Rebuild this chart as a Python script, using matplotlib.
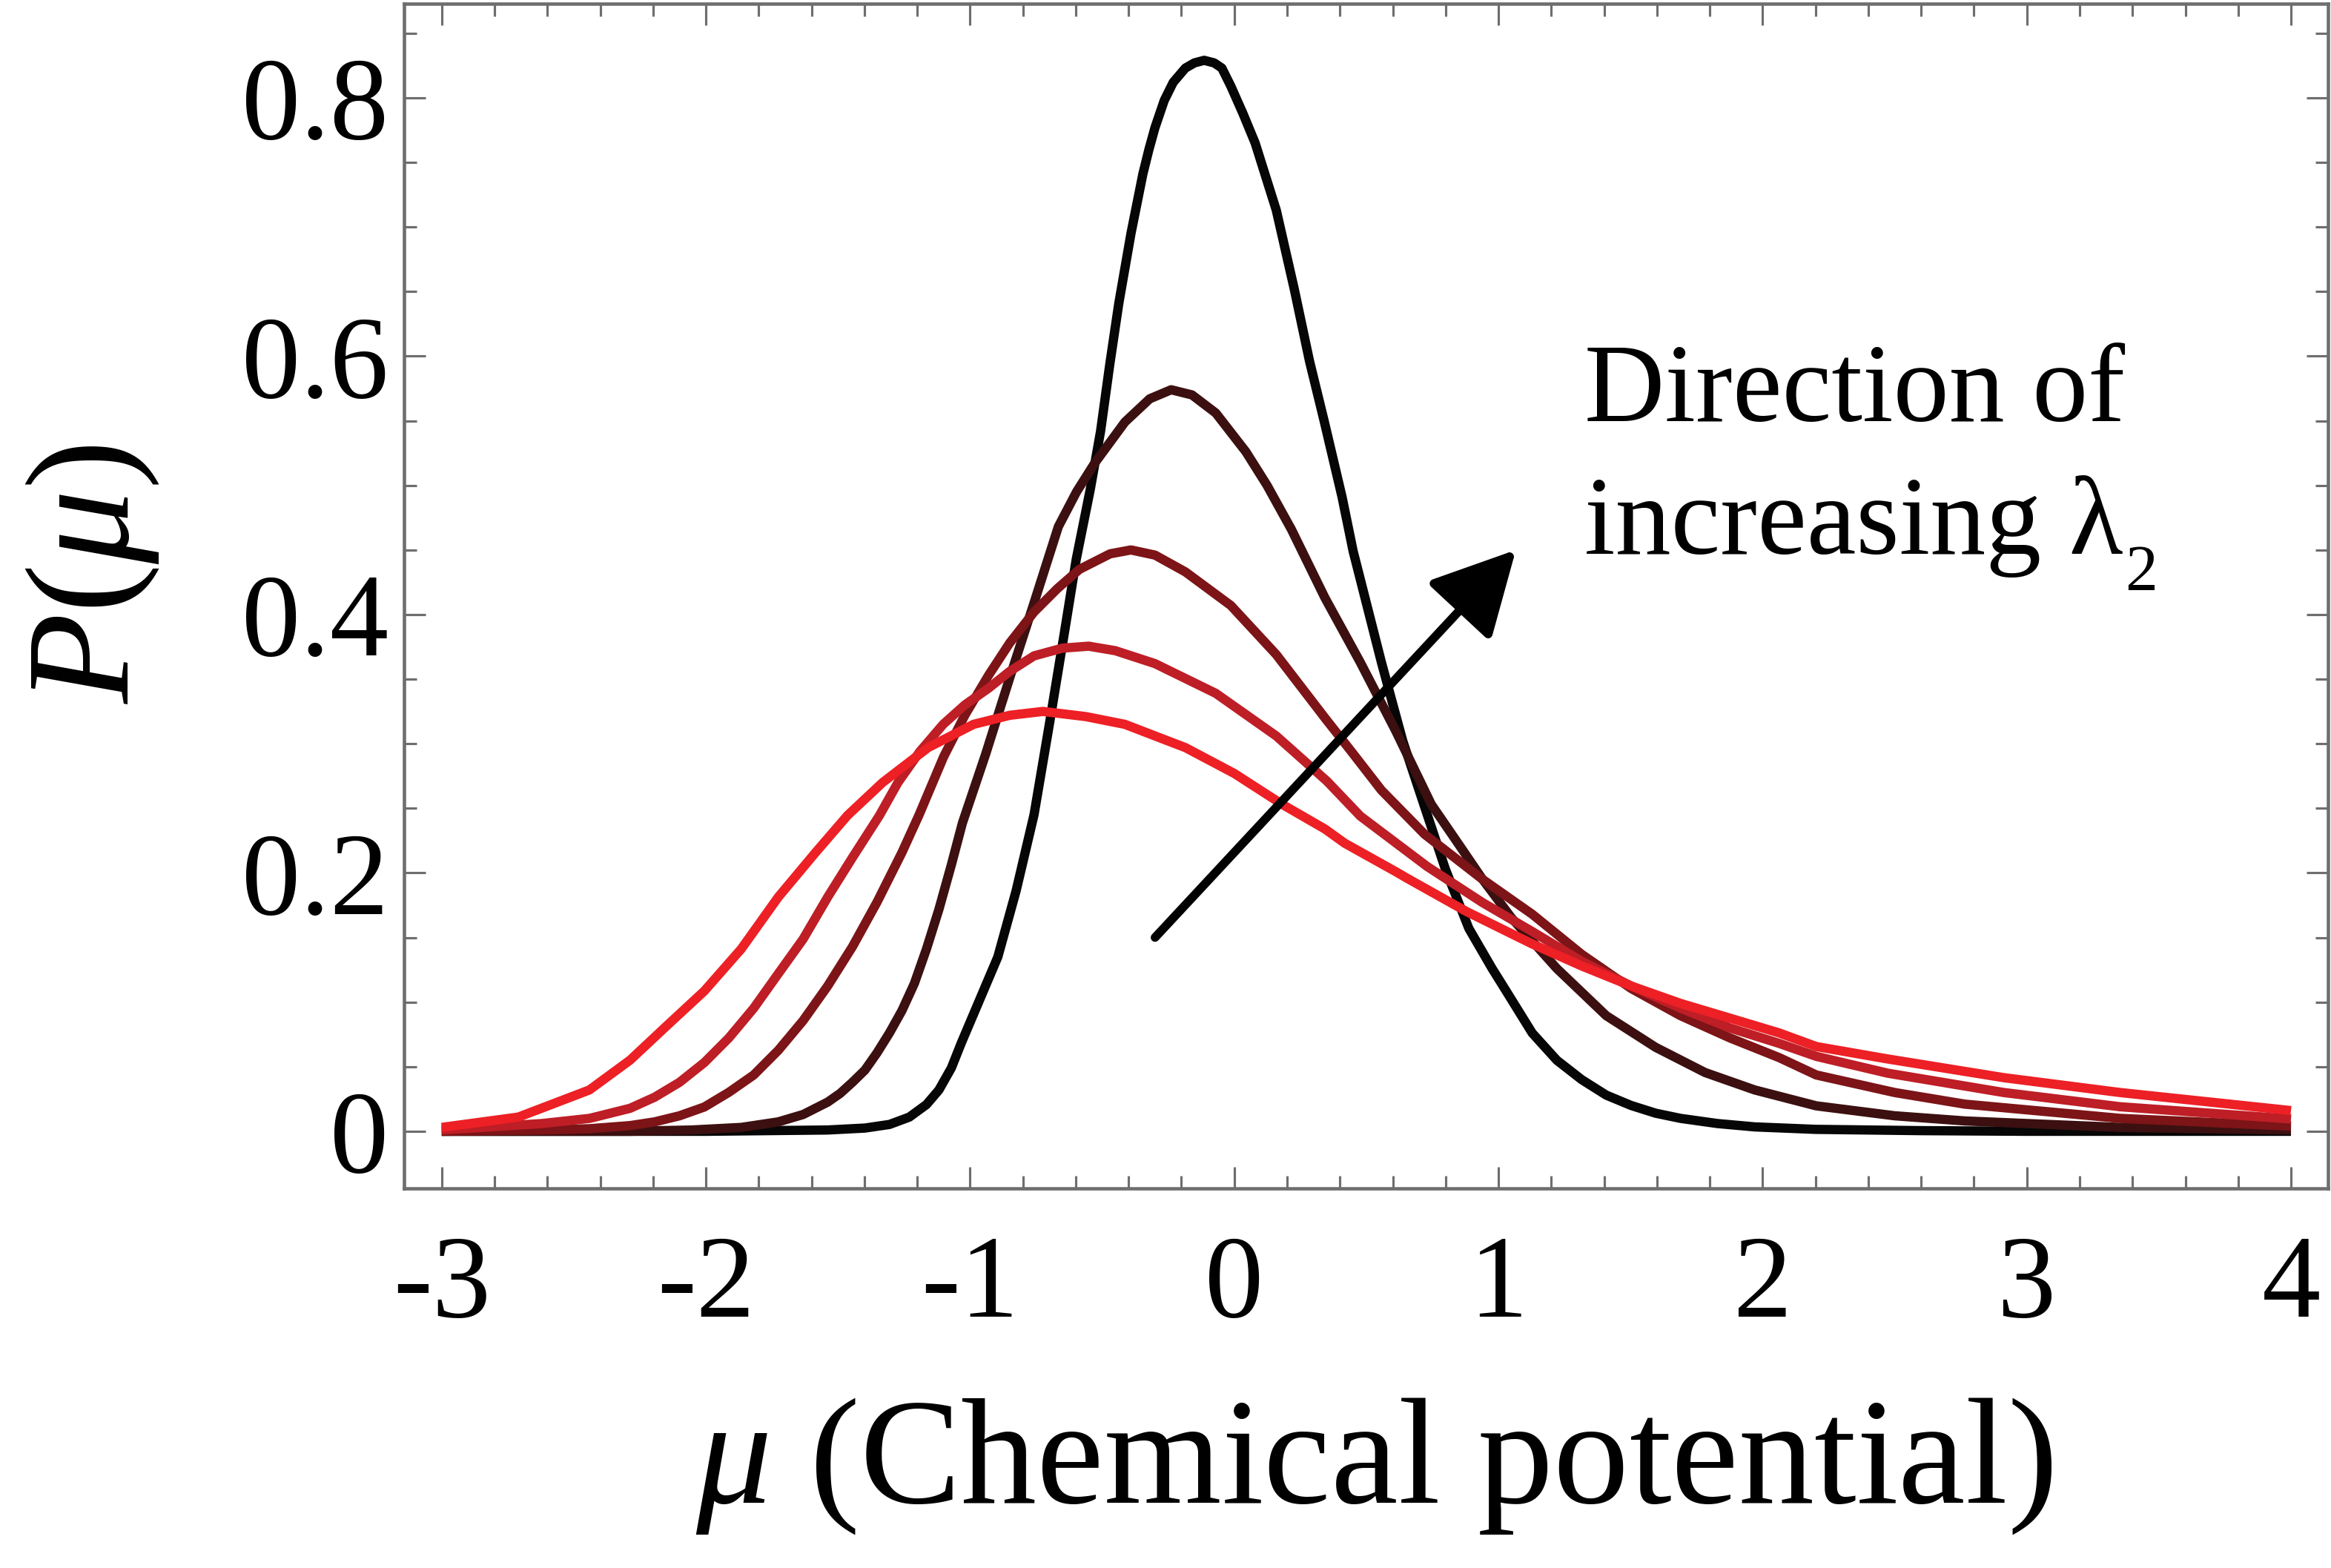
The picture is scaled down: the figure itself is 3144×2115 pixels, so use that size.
import matplotlib
matplotlib.use("Agg")
import matplotlib.pyplot as plt
from matplotlib.ticker import MultipleLocator
from matplotlib.patches import FancyArrowPatch

plt.rcParams['font.family'] = ['Liberation Serif', 'DejaVu Serif']
plt.rcParams['mathtext.fontset'] = 'custom'
plt.rcParams['mathtext.rm'] = 'Liberation Serif'
plt.rcParams['mathtext.it'] = 'Liberation Serif:italic'
plt.rcParams['axes.unicode_minus'] = False

# ---------------- data ----------------
mu_c1 = [-3.0, -2.0, -1.539, -1.398, -1.305, -1.230, -1.165, -1.118, -1.071, -1.033, -0.895,
         -0.826, -0.758, -0.700, -0.643, -0.598, -0.545, -0.506, -0.471, -0.437, -0.391, -0.346,
         -0.323, -0.300, -0.265, -0.231, -0.185, -0.151, -0.114, -0.076, -0.047, -0.013, 0.0325,
         0.079, 0.159, 0.227, 0.285, 0.340, 0.408, 0.450, 0.557, 0.638, 0.711, 0.799, 0.888,
         0.976, 1.034, 1.128, 1.221, 1.315, 1.408, 1.502, 1.595, 1.689, 1.829, 1.970, 2.2, 2.6,
         3.0, 4.0]
p_c1 = [0.0, 0.0, 0.001, 0.0025, 0.0053, 0.011, 0.0207, 0.032, 0.049, 0.0685, 0.135,
        0.186, 0.245, 0.315, 0.386, 0.443, 0.497, 0.542, 0.594, 0.641, 0.695, 0.741,
        0.760, 0.777, 0.798, 0.812, 0.823, 0.827, 0.829, 0.827, 0.823, 0.809, 0.788,
        0.765, 0.713, 0.652, 0.596, 0.550, 0.491, 0.449, 0.363, 0.302, 0.257, 0.203, 0.157,
        0.126, 0.107, 0.076, 0.055, 0.040, 0.028, 0.020, 0.014, 0.010, 0.006, 0.0034, 0.0015,
        0.0005, 0.0, 0.0]

mu_c2 = [-3.0, -2.29, -2.053, -1.866, -1.726, -1.632, -1.539, -1.492, -1.445, -1.398, -1.352,
         -1.305, -1.258, -1.211, -1.165, -1.118, -1.071, -1.029, -0.941, -0.850, -0.758, -0.666,
         -0.597, -0.529, -0.414, -0.320, -0.239, -0.160, -0.070, 0.044, 0.124, 0.216, 0.343,
         0.477, 0.611, 0.746, 0.85, 0.94, 1.05, 1.221, 1.408, 1.595, 1.782, 1.970, 2.203, 2.5,
         2.766, 3.353, 4.0]
p_c2 = [0.0, 0.0, 0.001, 0.003, 0.0073, 0.013, 0.0226, 0.0293, 0.038, 0.0474, 0.0608,
        0.0762, 0.0934, 0.1144, 0.1412, 0.1718, 0.2062, 0.2387, 0.292, 0.351, 0.409, 0.468,
        0.495, 0.517, 0.549, 0.567, 0.574, 0.570, 0.556, 0.526, 0.500, 0.466, 0.413,
        0.363, 0.310, 0.253, 0.222, 0.195, 0.165, 0.126, 0.0895, 0.065, 0.0455, 0.032, 0.0197, 0.012,
        0.008, 0.003, 0.001]

mu_c3 = [-3.0, -2.6, -2.44, -2.287, -2.194, -2.1, -2.006, -1.913, -1.819, -1.726, -1.632,
         -1.539, -1.445, -1.352, -1.258, -1.193, -1.10, -1.02, -0.930, -0.85, -0.758, -0.67,
         -0.586, -0.47, -0.391, -0.30, -0.185, -0.013, 0.159, 0.343, 0.447, 0.557, 0.72, 0.94,
         1.128, 1.315, 1.502, 1.689, 1.876, 2.063, 2.203, 2.5, 2.766, 3.353, 4.0]
p_c3 = [0.0, 0.001, 0.002, 0.0044, 0.0073, 0.012, 0.0188, 0.0302, 0.0436, 0.0627, 0.0857,
        0.1125, 0.143, 0.1775, 0.2158, 0.245, 0.290, 0.322, 0.353, 0.378, 0.402, 0.420,
        0.435, 0.447, 0.450, 0.446, 0.433, 0.407, 0.369, 0.320, 0.293, 0.264, 0.230, 0.195,
        0.168, 0.137, 0.1106, 0.0895, 0.0723, 0.057, 0.0436, 0.030, 0.021, 0.010, 0.004]

mu_c4 = [-3.0, -2.62, -2.44, -2.287, -2.194, -2.1, -2.006, -1.913, -1.819, -1.726, -1.632,
         -1.539, -1.445, -1.343, -1.273, -1.19, -1.102, -1.02, -0.930, -0.85, -0.758, -0.65,
         -0.551, -0.45, -0.30, -0.07, 0.159, 0.351, 0.477, 0.73, 0.94, 1.128, 1.315, 1.502,
         1.689, 1.876, 2.063, 2.203, 2.473, 2.913, 3.353, 4.0]
p_c4 = [0.001, 0.006, 0.010, 0.0178, 0.0264, 0.0379, 0.0532, 0.0723, 0.0953, 0.122, 0.1488,
        0.1813, 0.212, 0.2445, 0.270, 0.294, 0.315, 0.330, 0.343, 0.356, 0.368, 0.374,
        0.3755, 0.372, 0.362, 0.339, 0.306, 0.271, 0.244, 0.205, 0.177, 0.1546, 0.1316, 0.1125,
        0.0953, 0.080, 0.068, 0.058, 0.045, 0.030, 0.019, 0.0095]

mu_c5 = [-3.0, -2.71, -2.441, -2.287, -2.147, -2.006, -1.866, -1.726, -1.585, -1.464, -1.331,
         -1.159, -0.987, -0.85, -0.724, -0.562, -0.414, -0.287, -0.185, 0.0, 0.182, 0.343, 0.418,
         0.611, 0.653, 0.880, 1.128, 1.315, 1.502, 1.689, 1.876, 2.063, 2.203, 2.473, 2.913,
         3.353, 4.0]
p_c5 = [0.003, 0.011, 0.032, 0.0551, 0.0819, 0.1086, 0.1412, 0.1813, 0.2158, 0.2445, 0.270,
        0.297, 0.315, 0.322, 0.325, 0.321, 0.315, 0.305, 0.297, 0.277, 0.253, 0.234, 0.223,
        0.201, 0.196, 0.170, 0.145, 0.128, 0.1125, 0.099, 0.0876, 0.0761, 0.0656, 0.056, 0.0415,
        0.030, 0.016]

curve_colors = ['#060607', '#3c1010', '#7d1417', '#be1e26', '#ed2025']

x_ticks = [-3, -2, -1, 0, 1, 2, 3, 4]
x_ticklabels = ['-3', '-2', '-1', '0', '1', '2', '3', '4']
y_ticks = [0.0, 0.2, 0.4, 0.6, 0.8]
y_ticklabels = ['0', '0.2', '0.4', '0.6', '0.8']

arrow_tail = (-0.30, 0.150)
arrow_tip = (1.066, 0.450)

x_label = r'$\mathit{\mu}$ (Chemical potential)'
y_label = r'$P(\mu)$'
note_line1 = 'Direction of'
note_line2 = 'increasing λ'
note_sub = '2'

# ---------------- figure ----------------
fig = plt.figure(figsize=(10.48, 7.05), dpi=300)
ax = fig.add_axes([0.1733, 0.2421, 0.8254, 0.7556])

series = [(mu_c1, p_c1), (mu_c2, p_c2), (mu_c3, p_c3), (mu_c4, p_c4), (mu_c5, p_c5)]
for (mu, p), col in zip(series, curve_colors):
    ax.plot(mu, p, color=col, lw=3.0, solid_joinstyle='round', solid_capstyle='butt')

ax.set_xlim(-3.143, 4.140)
ax.set_ylim(-0.0442, 0.8729)

ax.set_xticks(x_ticks)
ax.set_xticklabels(x_ticklabels)
ax.set_yticks(y_ticks)
ax.set_yticklabels(y_ticklabels)
ax.xaxis.set_minor_locator(MultipleLocator(0.2))
ax.yaxis.set_minor_locator(MultipleLocator(0.05))

frame_gray = '#6e6e6e'
ax.tick_params(which='both', direction='in', top=True, right=True, color=frame_gray, width=0.75)
ax.tick_params(which='major', length=7)
ax.tick_params(which='minor', length=4)
ax.tick_params(axis='x', which='major', labelsize=38, pad=15)
ax.tick_params(axis='y', which='major', labelsize=38, pad=5)
for s in ax.spines.values():
    s.set_color(frame_gray)
    s.set_linewidth(1.1)

arr = FancyArrowPatch(arrow_tail, arrow_tip,
                      arrowstyle='-|>,head_length=23,head_width=12',
                      mutation_scale=1, lw=2.8, color='black',
                      shrinkA=0, shrinkB=0, zorder=5)
ax.add_patch(arr)

fig.text(2137 / 3144, 1 - 568 / 2115, note_line1, fontsize=36, ha='left', va='baseline')
fig.text(2137 / 3144, 1 - 747 / 2115, note_line2, fontsize=36, ha='left', va='baseline')
fig.text(2866 / 3144, 1 - 796 / 2115, note_sub, fontsize=21, ha='left', va='baseline')

fig.text(1853 / 3144, 1 - 2027 / 2115, x_label, fontsize=49, ha='center', va='baseline')
fig.text(125 / 3144, 1 - 775 / 2115, y_label, fontsize=48, rotation=90, ha='center', va='center')

fig.savefig('out.png', dpi=300)
